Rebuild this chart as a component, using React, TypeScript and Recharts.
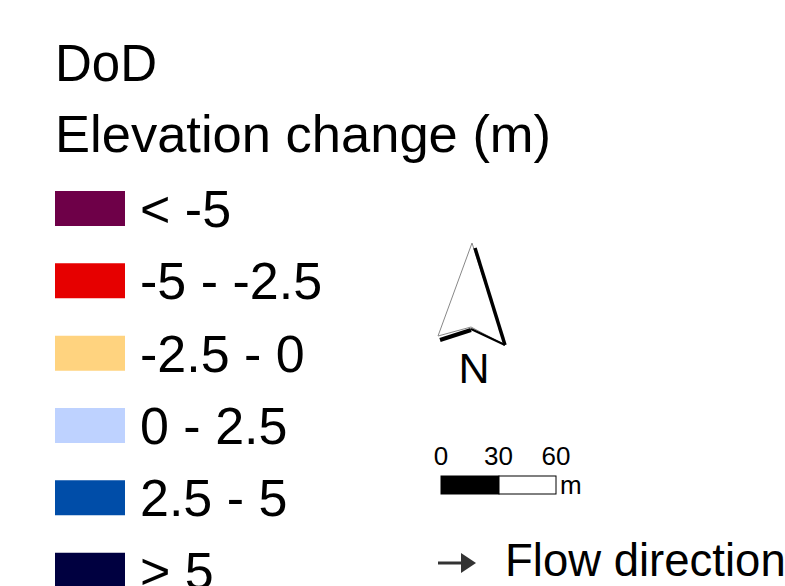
import React from 'react';
import { BarChart, Bar, XAxis, YAxis, LabelList, Cell, Customized } from 'recharts';

const classes = ['< -5', '-5 - -2.5', '-2.5 - 0', '0 - 2.5', '2.5 - 5', '> 5'];
const classColors = ['#6e0048', '#e60000', '#ffd37f', '#bed2ff', '#004da8', '#000040'];
const swatch = [1, 1, 1, 1, 1, 1];
const scaleTicks = ['0', '30', '60'];

const data = classes.map((label, i) => ({ label, swatch: swatch[i], color: classColors[i] }));

const font = '"Liberation Sans", Arial, sans-serif';

function Decorations() {
  return <g fontFamily={font}>
      <text x={55} y={81} fontSize={51} fill="#000">DoD</text>
      <text x={55} y={152} fontSize={52.5} fill="#000">Elevation change (m)</text>

      {/* north arrow */}
      <polygon points="472,243 438,336 471,327 505,345" fill="#fff" stroke="#888" strokeWidth={1} />
      <line x1={475} y1={248} x2={505} y2={345} stroke="#000" strokeWidth={3.5} />
      <line x1={440} y1={340} x2={471} y2={330} stroke="#000" strokeWidth={4} />
      <line x1={471} y1={329} x2={505} y2={345} stroke="#000" strokeWidth={2} />
      <text x={474} y={383} fontSize={43} textAnchor="middle" fill="#000">N</text>

      {/* scale bar */}
      {scaleTicks.map((t, i) => <text key={t} x={441 + i * 57.5} y={465} fontSize={26} textAnchor="middle" fill="#000">{t}</text>)}
      <rect x={441} y={476} width={58} height={18} fill="#000" stroke="#000" strokeWidth={1} />
      <rect x={499} y={476} width={57} height={18} fill="#fff" stroke="#000" strokeWidth={1} />
      <text x={560} y={494} fontSize={26} fill="#000">m</text>

      {/* flow direction */}
      <line x1={438} y1={563} x2={464} y2={563} stroke="#333" strokeWidth={3} />
      <polygon points="476,563 461,553 461,573" fill="#333" />
      <text x={505} y={576} fontSize={45.5} fill="#000">Flow direction</text>
    </g>;
}

export default function App() {
  return <div style={{ position: 'fixed', left: 0, top: 0, width: 785, height: 586, overflow: 'hidden', background: '#fff' }}>
      <BarChart width={785} height={610} data={data} layout="vertical" margin={{ top: 172, right: 30, bottom: 4, left: 55 }}>
        <XAxis type="number" domain={[0, 10]} hide />
        <YAxis type="category" dataKey="label" hide width={0} />
        <Bar dataKey="swatch" barSize={35} isAnimationActive={false}>
          {data.map((d, i) => <Cell key={i} fill={d.color} />)}
          <LabelList dataKey="label" position="right" offset={15} fill="#000" fontSize={52} fontFamily={font} />
        </Bar>
        <Customized component={Decorations} />
      </BarChart>
    </div>;
}
